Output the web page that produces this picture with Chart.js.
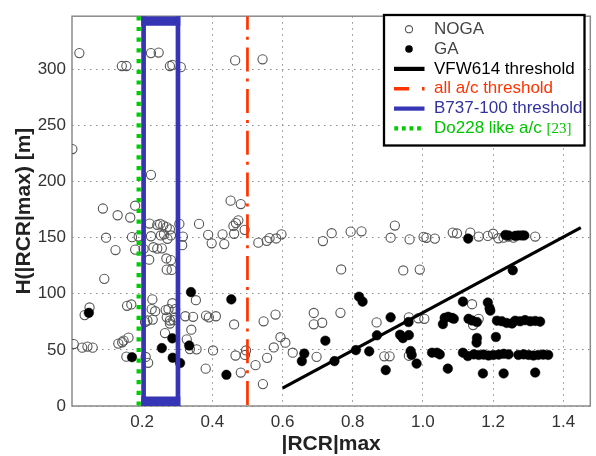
<!DOCTYPE html>
<html>
<head>
<meta charset="utf-8">
<script src="https://cdn.jsdelivr.net/npm/chart.js@4.4.1/dist/chart.umd.min.js"></script>
<style>
  html, body { margin: 0; padding: 0; background: #fff; }
  #wrap { width: 596px; height: 456px; }
</style>
</head>
<body>
<div id="wrap"><canvas id="rcrChart" width="596" height="456"></canvas></div>
<script>
// NOGA flights (open circles): |RCR|max and the height where it occurred [m]
const nogaX = [0.021, 0.001, 0.142, 0.155, 0.225, 0.247, 0.279, 0.286, 0.31, 0.465, 0.543, 0.225, 0.452, 0.481, 0.088, 0.13, 0.166, 0.18,
  0.221, 0.243, 0.251, 0.26, 0.27, 0.279, 0.306, 0.362, 0.46, 0.467, 0.474,
  0.097, 0.171, 0.19, 0.225, 0.253, 0.262, 0.272, 0.282, 0.316, 0.388, 0.398, 0.429, 0.434, 0.462, 0.492, 0.531, 0.555, 0.563, 0.582, 0.597,
  0.124, 0.18, 0.204, 0.232, 0.243, 0.256, 0.314, 0.22, 0.269, 0.282, 0.27, 0.284, 0.092,
  0.715, 0.74, 0.794, 0.825, 0.908, 0.92, 0.962, 1.002, 1.01, 1.034, 1.085, 1.097, 1.135, 1.159, 1.185, 1.2, 1.215, 1.23, 1.244, 1.258, 1.32,
  0.767, 0.944, 0.991,
  0.036, 0.05, 0.157, 0.169, 0.229, 0.227, 0.237, 0.215, 0.23, 0.208, 0.267, 0.275, 0.286, 0.294, 0.27, 0.279, 0.289, 0.279, 0.294, 0.323, 0.345,
  0.265, 0.327, 0.336, 0.34, 0.353, 0.382, 0.39, 0.41,
  0.005, 0.029, 0.044, 0.059, 0.132, 0.143, 0.161, 0.147, 0.155, 0.21, 0.217,
  0.355, 0.402, 0.381, 0.462, 0.466, 0.496, 0.493, 0.481, 0.523, 0.546, 0.58, 0.594, 0.608, 0.556, 0.575, 0.544, 0.629,
  0.689, 0.689, 0.713, 0.697, 0.765, 0.868, 0.96, 0.987, 1.004, 0.89, 0.905, 0.96, 1.14, 1.143, 1.159];
const nogaY = [314.5, 229, 303, 303, 314.5, 315, 303, 304, 302, 308, 309, 206, 183, 180, 176, 170, 168, 178.5,
  162.6, 161.5, 162.3, 161, 159.4, 157.4, 162.3, 162.3, 160.5, 163, 165.5,
  150, 150.5, 151, 151.3, 152, 153, 149, 152, 151, 152.5, 145, 153, 144.3, 153.5, 157, 145.6, 147.2, 149.6, 149.3, 153,
  139, 139.4, 140, 141.5, 140.3, 140.5, 143.3, 130.4, 131.5, 130, 121.5, 121.3, 113.3,
  147, 154, 155.4, 155.7, 150, 160.8, 148.5, 150.7, 149.9, 149.2, 154.6, 153.8, 154.5, 151, 151.6, 153.5, 149.5, 150, 151, 150, 151,
  121.7, 120.8, 121.6,
  81, 87.8, 89.3, 90.5, 95, 86.3, 84.5, 76.2, 77, 74.8, 85.5, 86.3, 91.6, 86.3, 79, 76.2, 76.5, 73.5, 79, 80, 79.5,
  65, 59.4, 50.7, 68, 94.3, 80.6, 79, 80,
  55.2, 52, 53, 52, 55.6, 56.8, 60.9, 58.3, 44, 43.7, 38.5,
  50.5, 49.5, 33.3, 72.7, 45, 49.5, 45.5, 29.8, 36.4, 75.5, 81.5, 61.3, 56.4, 42.9, 52.2, 19.5, 47.5,
  82.9, 72.8, 74.2, 43.8, 83, 74.5, 79, 78.2, 77.7, 44.3, 44.3, 44.8, 90.7, 72.2, 77.7];

// GA flights (filled circles)
const gaX = [0.048, 0.171, 0.256, 0.286, 0.287, 0.308, 0.334, 0.339, 0.44, 0.454,
  0.655, 0.662, 0.722, 0.748, 0.809, 0.818, 0.828, 0.847, 0.869, 0.894, 0.908, 0.935, 0.943, 0.96, 0.959, 0.965, 0.968, 0.982,
  1.026, 1.04, 1.048, 1.057, 1.062, 1.072, 1.083, 1.071, 1.088, 1.114, 1.114, 1.128, 1.13, 1.14, 1.154, 1.129,
  1.185, 1.19, 1.192, 1.154, 1.153, 1.208, 1.256, 1.171, 1.23, 1.32,
  1.145, 1.159, 1.173, 1.187, 1.201, 1.216, 1.23, 1.244, 1.272, 1.287, 1.301, 1.315, 1.329, 1.343, 1.357,
  1.211, 1.225, 1.239, 1.254, 1.263, 1.277, 1.291, 1.306, 1.32, 1.334,
  1.235, 1.244, 1.263, 1.272, 1.282, 1.289];
const gaY = [83, 43.5, 51.6, 60.3, 43, 38.3, 53.9, 101.5, 27.8, 95,
  40, 46.7, 58.2, 40, 49.8, 97.4, 93, 48.7, 63, 32, 79, 63.5, 60.5, 63.2, 74.8, 49, 45.5, 37.8,
  47.5, 47.5, 46, 73, 78.5, 79.5, 78.5, 33.3, 77.7, 93, 47.5, 44.5, 77.7, 76.2, 74.8, 149.2,
  92.2, 87, 85, 60.6, 56.5, 61.5, 121, 29, 29, 29.8,
  46, 45.5, 45.8, 45, 45.5, 45.8, 46.5, 46, 45.5, 46, 45.5, 45, 45.5, 45.8, 45.5,
  76, 75.5, 74, 73.5, 76, 75.5, 76.5, 75.5, 75.8, 75.2,
  152.4, 152, 151.6, 152, 152, 152];

// thresholds
const vfwX = [0.6, 1.45];
const vfwY = [16, 159];
const allAcX = 0.5;
const b737X = [0.204, 0.302];
const do228X = 0.19;

// axes
const xRange = [0, 1.477];
const yRange = [0, 347.4];
const xTicks = [0.2, 0.4, 0.6, 0.8, 1, 1.2, 1.4];
const yTicks = [0, 50, 100, 150, 200, 250, 300];

const legendItems = [
  { label: 'NOGA', color: '#444', kind: 'open' },
  { label: 'GA', color: '#444', kind: 'dot' },
  { label: 'VFW614 threshold', color: '#000', kind: 'solid', line: '#000' },
  { label: 'all a/c threshold', color: '#ff3300', kind: 'dashdot', line: '#ff3300' },
  { label: 'B737-100 threshold', color: '#33339e', kind: 'solid', line: '#3535b5' },
  { label: 'Do228 like a/c', note: '[23]', color: '#00c400', kind: 'dots', line: '#00cc00' }
];

Chart.defaults.font.family = '"Liberation Sans", Arial, sans-serif';

function pts(xs, ys) {
  return xs.map((x, i) => ({ x: x, y: ys[i] }));
}

// blue box: sides, plus the heavy bars along the top and bottom edges
const boxPad = 0.0067;
const b737Sides = [
  { x: b737X[0], y: yRange[0] }, { x: b737X[0], y: yRange[1] }, { x: null, y: null },
  { x: b737X[1], y: yRange[1] }, { x: b737X[1], y: yRange[0] }
];
const b737Bars = [
  { x: b737X[0] - boxPad, y: 343.1 }, { x: b737X[1] + boxPad, y: 343.1 }, { x: 0.25, y: null },
  { x: b737X[0] - boxPad, y: 4.2 }, { x: b737X[1] + boxPad, y: 4.2 }
];

const frame = {
  id: 'frame',
  beforeDatasetsDraw(chart) {
    const a = chart.chartArea, ctx = chart.ctx;
    ctx.save();
    ctx.strokeStyle = '#8a8a8a';
    ctx.lineWidth = 1.5;
    ctx.strokeRect(a.left, a.top, a.right - a.left, a.bottom - a.top);
    ctx.restore();
  }
};

const boxLegend = {
  id: 'boxLegend',
  afterDraw(chart) {
    const ctx = chart.ctx;
    const bx = 384, by = 15, bw = 200.5, bh = 130.5;
    ctx.save();
    ctx.fillStyle = '#fff';
    ctx.fillRect(bx, by, bw, bh);
    ctx.strokeStyle = '#000';
    ctx.lineWidth = 2.3;
    ctx.strokeRect(bx, by, bw, bh);
    ctx.textBaseline = 'middle';
    legendItems.forEach((it, i) => {
      const y = 29.2 + i * 19.85;
      ctx.setLineDash([]);
      if (it.kind === 'open') {
        ctx.beginPath();
        ctx.arc(409, y, 3.6, 0, Math.PI * 2);
        ctx.strokeStyle = '#555';
        ctx.lineWidth = 1.1;
        ctx.stroke();
      } else if (it.kind === 'dot') {
        ctx.beginPath();
        ctx.arc(409, y, 3.8, 0, Math.PI * 2);
        ctx.fillStyle = '#000';
        ctx.fill();
      } else {
        ctx.strokeStyle = it.line;
        ctx.lineWidth = 4.2;
        ctx.beginPath();
        if (it.kind === 'solid') {
          ctx.moveTo(394, y); ctx.lineTo(424.5, y);
        } else if (it.kind === 'dashdot') {
          ctx.lineWidth = 3.3;
          ctx.moveTo(394, y); ctx.lineTo(409, y);
          ctx.moveTo(422, y); ctx.lineTo(424.5, y);
        } else {
          ctx.setLineDash([3.8, 3.8]);
          ctx.moveTo(394.3, y); ctx.lineTo(424.5, y);
        }
        ctx.stroke();
        ctx.setLineDash([]);
      }
      ctx.fillStyle = it.color;
      ctx.font = '17px "Liberation Sans", Arial, sans-serif';
      ctx.fillText(it.label, 434, y);
      if (it.note) {
        const w = ctx.measureText(it.label + ' ').width;
        ctx.font = '15px "Liberation Serif", "Times New Roman", serif';
        ctx.fillText(it.note, 434 + w, y + 0.5);
      }
    });
    ctx.restore();
  }
};

new Chart('rcrChart', {
  type: 'scatter',
  data: {
    datasets: [
      {
        label: 'VFW614 threshold', data: pts(vfwX, vfwY), showLine: true,
        borderColor: '#000', borderWidth: 3.2, pointRadius: 0
      },
      {
        label: 'all a/c threshold', data: [{ x: allAcX, y: yRange[1] }, { x: allAcX, y: yRange[0] }], showLine: true,
        borderColor: '#ff3300', borderWidth: 2.7, borderDash: [24, 7, 3, 7.7], borderDashOffset: 10.5, pointRadius: 0
      },
      {
        label: 'B737-100 threshold', data: b737Sides, showLine: true, spanGaps: false,
        borderColor: '#3535b5', borderWidth: 4.7, pointRadius: 0
      },
      {
        label: 'B737-100 bars', data: b737Bars, showLine: true, spanGaps: false,
        borderColor: '#3535b5', borderWidth: 9.6, pointRadius: 0
      },
      {
        label: 'Do228 like a/c', data: [{ x: do228X, y: yRange[1] }, { x: do228X, y: yRange[0] }], showLine: true,
        borderColor: '#00cc00', borderWidth: 4.3, borderDash: [4.2, 6.5], pointRadius: 0
      },
      {
        label: 'GA', data: pts(gaX, gaY),
        pointRadius: 4.8, pointBackgroundColor: '#000', pointBorderColor: '#000', pointBorderWidth: 0.5
      },
      {
        label: 'NOGA', data: pts(nogaX, nogaY),
        pointRadius: 4.6, pointBackgroundColor: 'rgba(0,0,0,0)', pointBorderColor: '#555', pointBorderWidth: 1.1
      }
    ]
  },
  options: {
    responsive: false,
    devicePixelRatio: 1,
    animation: false,
    layout: { padding: { left: 0, right: 4, top: 7, bottom: 0 } },
    plugins: { legend: { display: false }, tooltip: { enabled: false } },
    scales: {
      x: {
        type: 'linear', min: xRange[0], max: xRange[1],
        afterBuildTicks: s => { s.ticks = xTicks.map(v => ({ value: v })); },
        afterFit: s => { s.height = 50; },
        grid: { color: '#8a8a8a', lineWidth: 1, drawTicks: false },
        border: { display: false, dash: [1.5, 4.5] },
        ticks: { color: '#333', padding: 6, font: { size: 17 }, maxRotation: 0 },
        title: { display: true, text: '|RCR|max', color: '#222', font: { size: 21, weight: 'bold', lineHeight: 1.1 }, padding: { top: 0, bottom: 0.5 } }
      },
      y: {
        type: 'linear', min: yRange[0], max: yRange[1],
        afterBuildTicks: s => { s.ticks = yTicks.map(v => ({ value: v })); },
        afterFit: s => { s.width = 72; },
        grid: { color: '#8a8a8a', lineWidth: 1, drawTicks: false },
        border: { display: false, dash: [1.5, 4.5] },
        ticks: { color: '#333', padding: 6, font: { size: 17 } },
        title: { display: true, text: 'H(|RCR|max) [m]', color: '#222', font: { size: 21, weight: 'bold', lineHeight: 1.2 }, padding: { top: 12, bottom: 0 } }
      }
    }
  },
  plugins: [frame, boxLegend]
});
</script>
</body>
</html>
